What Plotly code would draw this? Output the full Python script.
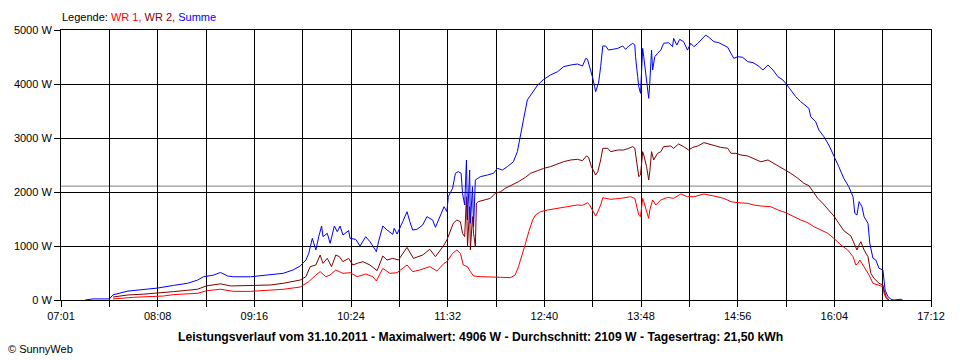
import plotly.graph_objects as go
import numpy as np

# ---------------- data ----------------
x_labels = ["07:01", "08:08", "09:16", "10:24", "11:32", "12:40", "13:48", "14:56", "16:04", "17:12"]
y_ticks = [0, 1000, 2000, 3000, 4000, 5000]
avg_power = 2109

summe_time = [
    "07:18", "07:23:30", "07:35", "07:37:30", "07:48", "07:59", "08:08:30", "08:20", "08:30", "08:37",
    "08:41", "08:48", "08:53", "08:58", "09:02", "09:14", "09:28", "09:37", "09:44", "09:49",
    "09:53", "09:55", "09:57:30", "10:00", "10:02", "10:04", "10:05", "10:08", "10:10", "10:13",
    "10:15", "10:17", "10:19", "10:23", "10:24", "10:28", "10:31", "10:35", "10:38", "10:42:30",
    "10:44", "10:47", "10:50", "10:54", "10:55", "10:57", "11:01", "11:04", "11:06", "11:08",
    "11:11", "11:15", "11:18", "11:22", "11:24", "11:27:30", "11:30", "11:32", "11:33", "11:36",
    "11:38", "11:40", "11:42", "11:43", "11:44:30", "11:45:45", "11:46:30", "11:48", "11:48:30", "11:50",
    "11:50:45", "11:52", "11:53:30", "11:55:30", "12:00:30", "12:04:45", "12:07:30", "12:11", "12:14:30", "12:18:45",
    "12:21:30", "12:23:45", "12:25:45", "12:28:30", "12:32:15", "12:35:45", "12:40", "12:44:45", "12:49:45", "12:54",
    "12:59", "13:03:45", "13:07:15", "13:09:30", "13:10:45", "13:12:15", "13:14:30", "13:15:45", "13:16:30", "13:18",
    "13:18:30", "13:20", "13:21:30", "13:23:30", "13:25:30", "13:28:30", "13:32", "13:35:30", "13:37:30", "13:39:45",
    "13:42:30", "13:44", "13:44:30", "13:46", "13:46:45", "13:48", "13:49:30", "13:50:15", "13:51:30", "13:53",
    "13:53:45", "13:54:30", "13:55:45", "13:56:30", "13:58", "14:00", "14:02:15", "14:04:15", "14:07:45", "14:10:30",
    "14:11:15", "14:13:30", "14:15:30", "14:18:15", "14:21", "14:23:15", "14:25:30", "14:28:15", "14:31:45", "14:33:45",
    "14:36", "14:39:30", "14:43", "14:46:30", "14:49:15", "14:51:30", "14:53:30", "14:56:15", "14:59:45", "15:03:15",
    "15:07", "15:10:30", "15:14", "15:17:30", "15:21", "15:24:30", "15:28", "15:30", "15:33:30", "15:37",
    "15:40:30", "15:44", "15:46:15", "15:47:30", "15:51", "15:53:15", "15:56:45", "16:00:15", "16:03:45", "16:07:15",
    "16:10:45", "16:14:15", "16:17:15", "16:18:30", "16:20", "16:21:30", "16:23:30", "16:25", "16:27:45", "16:29",
    "16:31:15", "16:33:15", "16:35:30", "16:38:15", "16:39", "16:39:45", "16:41:45", "16:44", "16:46", "16:50",
    "16:51", "16:52",
]
summe_w = [
    0, 20, 20, 95, 165, 198, 220, 270, 310, 370,
    430, 460, 510, 445, 430, 430, 463, 494, 556, 630,
    740, 864, 1142, 926, 1173, 1370, 1173, 1235, 1050, 1370,
    1265, 1370, 1204, 1284, 1142, 1123, 1000, 1173, 1080, 895,
    1080, 1370, 1296, 1216, 1327, 1222, 1450, 1635, 1450, 1296,
    1309, 1389, 1543, 1481, 1346, 1560, 1728, 1636, 1913, 2068,
    2346, 2377, 2346, 1975, 1759, 2593, 1481, 2407, 1420, 2099,
    1358, 2222, 2253, 2284, 2315, 2346, 2438, 2407, 2469, 2562,
    2747, 3025, 3333, 3704, 3858, 3981, 4086, 4167, 4228, 4321,
    4352, 4370, 4333, 4475, 4457, 4321, 4105, 3950, 3858, 3981,
    4012, 4321, 4704, 4704, 4630, 4642, 4660, 4704, 4642, 4704,
    4753, 4722, 4506, 4136, 3950, 3827, 4660, 4506, 4259, 3981,
    3735, 4012, 4630, 4259, 4506, 4568, 4630, 4753, 4765, 4691,
    4846, 4722, 4827, 4784, 4630, 4753, 4691, 4753, 4846, 4906,
    4865, 4784, 4765, 4722, 4679, 4568, 4475, 4506, 4494, 4414,
    4395, 4340, 4259, 4352, 4259, 4136, 4074, 4012, 3889, 3765,
    3673, 3593, 3549, 3395, 3302, 3148, 3025, 2870, 2685, 2469,
    2253, 2099, 1913, 1605, 1574, 1821, 1728, 1543, 1420, 1050,
    772, 741, 586, 556, 370, 185, 62, 12, 0, 15,
    15, 0,
]

wr2_time = [
    "07:37:30", "07:48", "07:59", "08:08:30", "08:20", "08:30", "08:37", "08:43", "08:48", "08:53",
    "09:00", "09:14", "09:28", "09:37", "09:49", "09:53", "09:56", "10:00", "10:03", "10:05",
    "10:08", "10:11", "10:14", "10:16:30", "10:19", "10:23", "10:26", "10:29", "10:33", "10:38",
    "10:43", "10:47", "10:50", "10:54", "10:58", "11:04", "11:08:30", "11:15", "11:20", "11:24",
    "11:27:30", "11:30", "11:32", "11:34:30", "11:36:30", "11:39", "11:41:30", "11:43", "11:44:30", "11:45:45",
    "11:46:30", "11:48", "11:48:30", "11:50", "11:50:45", "11:52", "11:52:45", "11:54", "11:57:45", "12:02:30",
    "12:06", "12:09:45", "12:13", "12:18", "12:22:15", "12:27:15", "12:30:45", "12:35:45", "12:40", "12:44:45",
    "12:49:45", "12:54", "12:59", "13:03:45", "13:07:15", "13:10", "13:11:30", "13:13:30", "13:16:30", "13:18",
    "13:20", "13:21:30", "13:25", "13:27", "13:32", "13:36", "13:39:45", "13:42:30", "13:44", "13:45:15",
    "13:46:45", "13:48", "13:49:30", "13:50:15", "13:52:15", "13:53:45", "13:54:30", "13:55:45", "13:57:15", "14:00",
    "14:02:15", "14:04:15", "14:09:15", "14:11:15", "14:14:45", "14:18:15", "14:21:45", "14:24:45", "14:28:15", "14:32:30",
    "14:36", "14:39:30", "14:44:15", "14:49:15", "14:51:30", "14:55", "14:58:30", "15:03:15", "15:07:30", "15:12:30",
    "15:17:30", "15:21:30", "15:26:30", "15:30", "15:33:30", "15:38:30", "15:42:45", "15:46:15", "15:49", "15:52:30",
    "15:56", "16:00:15", "16:03:45", "16:07:15", "16:10:45", "16:15:45", "16:18", "16:20", "16:21:30", "16:22:45",
    "16:25", "16:27:45", "16:29:45", "16:32", "16:35:30", "16:38:15", "16:39", "16:40:30", "16:42:30",
]
wr2_w = [
    55, 93, 108, 135, 155, 180, 200, 260, 280, 300,
    260, 265, 278, 309, 370, 432, 617, 648, 833, 679,
    771, 617, 833, 802, 710, 771, 648, 679, 710, 648,
    543, 815, 740, 771, 740, 975, 771, 833, 938, 802,
    926, 1019, 1111, 1265, 1420, 1481, 1450, 1235, 1173, 1913,
    987, 1728, 926, 1543, 1235, 987, 1790, 1821, 1852, 1882,
    1975, 2006, 2068, 2130, 2191, 2272, 2346, 2395, 2438, 2469,
    2519, 2562, 2593, 2605, 2580, 2667, 2642, 2469, 2315, 2377,
    2593, 2809, 2809, 2747, 2778, 2778, 2809, 2840, 2809, 2593,
    2284, 2315, 2747, 2685, 2469, 2222, 2377, 2747, 2593, 2716,
    2747, 2840, 2852, 2809, 2889, 2840, 2778, 2827, 2852, 2914,
    2889, 2852, 2827, 2809, 2716, 2716, 2685, 2667, 2623, 2560,
    2593, 2531, 2469, 2407, 2346, 2253, 2160, 2117, 2006, 1882,
    1790, 1667, 1556, 1420, 1284, 1185, 1050, 926, 1019, 1080,
    926, 802, 494, 401, 309, 278, 185, 62, 0,
]

wr1_time = [
    "07:37:30", "07:52", "08:13", "08:20", "08:37", "08:43", "08:53", "09:02", "09:14", "09:37",
    "09:49", "09:55", "10:00", "10:03", "10:07", "10:10", "10:14", "10:19", "10:24", "10:29",
    "10:35", "10:40", "10:42:30", "10:47", "10:52", "10:57", "11:04", "11:08", "11:13", "11:20",
    "11:25", "11:30", "11:32", "11:36", "11:39", "11:41:30", "11:43:30", "11:46:30", "11:48:30", "11:50:45",
    "11:55:30", "12:02:30", "12:09:45", "12:16:45", "12:20", "12:22:15", "12:25", "12:27:15", "12:29:30", "12:32:15",
    "12:34:15", "12:37:45", "12:42:45", "12:49:45", "12:56:45", "13:03:45", "13:07:15", "13:10:45", "13:12:15", "13:14:30",
    "13:16:30", "13:18", "13:20", "13:21:30", "13:27", "13:34", "13:41", "13:44", "13:45:15", "13:46:45",
    "13:48", "13:49:30", "13:50:15", "13:52:15", "13:53:45", "13:54:30", "13:56:30", "13:58:45", "14:02:15", "14:07",
    "14:11:15", "14:16:15", "14:21", "14:25:30", "14:32:30", "14:39:30", "14:46:30", "14:51:30", "14:56:15", "15:03:15",
    "15:07:30", "15:12:30", "15:19:30", "15:24:30", "15:30", "15:35:45", "15:40:30", "15:45:30", "15:49:45", "15:54:45",
    "15:59:30", "16:03:45", "16:08:45", "16:13:30", "16:17:15", "16:19:15", "16:20:45", "16:22", "16:25", "16:28:30",
    "16:31:15", "16:34:45", "16:38:15", "16:39", "16:40:30", "16:41:45",
]
wr1_w = [
    20, 50, 74, 100, 124, 170, 200, 160, 160, 198,
    240, 339, 463, 525, 432, 463, 556, 494, 506, 432,
    481, 432, 352, 586, 494, 506, 648, 525, 556, 617,
    537, 679, 710, 864, 926, 864, 648, 617, 525, 444,
    432, 432, 420, 414, 463, 617, 833, 1050, 1265, 1481,
    1574, 1636, 1667, 1697, 1741, 1759, 1753, 1802, 1759, 1636,
    1556, 1636, 1759, 1895, 1864, 1882, 1913, 1882, 1728, 1574,
    1543, 1882, 1821, 1667, 1512, 1667, 1852, 1759, 1852, 1901,
    1882, 1963, 1913, 1913, 1963, 1926, 1882, 1821, 1802, 1790,
    1759, 1740, 1728, 1667, 1617, 1543, 1481, 1432, 1358, 1296,
    1235, 1142, 1019, 926, 802, 648, 679, 741, 617, 463,
    309, 278, 247, 124, 31, 0,
]


def to_min(s):
    p = [int(v) for v in s.split(":")]
    while len(p) < 3:
        p.append(0)
    return p[0] * 60 + p[1] + p[2] / 60.0


FONT = "Arial, 'Liberation Sans', sans-serif"

fig = go.Figure()
fig.add_trace(go.Scatter(x=[to_min(t) for t in wr1_time], y=wr1_w, mode="lines",
                         line=dict(color="#FF0000", width=1), name="WR 1"))
fig.add_trace(go.Scatter(x=[to_min(t) for t in wr2_time], y=wr2_w, mode="lines",
                         line=dict(color="#800000", width=1), name="WR 2"))
fig.add_trace(go.Scatter(x=[to_min(t) for t in summe_time], y=summe_w, mode="lines",
                         line=dict(color="#0000FF", width=1), name="Summe"))

t0, t1 = to_min(x_labels[0]), to_min(x_labels[-1])
major = list(np.linspace(t0, t1, len(x_labels)))
minor = [(a + b) / 2 for a, b in zip(major[:-1], major[1:])]

fig.add_shape(type="line", xref="paper", x0=0, x1=1, yref="y", y0=avg_power, y1=avg_power,
              line=dict(color="#808080", width=1), layer="below")

fig.update_layout(
    width=960, height=360,
    margin=dict(l=61, r=29, t=30, b=60, pad=0),
    paper_bgcolor="white", plot_bgcolor="white",
    showlegend=False,
    font=dict(family=FONT, size=11, color="black"),
    xaxis=dict(range=[t0, t1], tickmode="array", tickvals=major, ticktext=x_labels,
               showgrid=True, gridcolor="black", gridwidth=1, zeroline=False,
               ticks="outside", ticklen=6, tickcolor="black", tickwidth=1,
               showline=True, linecolor="black", linewidth=1, mirror=True,
               tickfont=dict(family=FONT, size=11, color="black"),
               minor=dict(tickmode="array", tickvals=minor, showgrid=True, gridcolor="black",
                          gridwidth=1, ticks="outside", ticklen=6, tickcolor="black", tickwidth=1)),
    yaxis=dict(range=[0, 5000], tickmode="array", tickvals=y_ticks,
               ticktext=[f"{v} W" for v in y_ticks],
               showgrid=True, gridcolor="black", gridwidth=1, zeroline=False,
               ticks="outside", ticklen=6, tickcolor="black", tickwidth=1,
               showline=True, linecolor="black", linewidth=1, mirror=True,
               tickfont=dict(family=FONT, size=11, color="black")),
)

fig.add_annotation(
    xref="paper", yref="paper", x=(60 - 61) / 870, y=(300 - 17) / 270,
    xanchor="left", yanchor="middle", showarrow=False,
    text=("Legende: <span style='color:#FF0000'>WR 1, </span>"
          "<span style='color:#800000'>WR 2, </span>"
          "<span style='color:#0000FF'>Summe</span>"),
    font=dict(family=FONT, size=11, color="black"),
)
fig.add_annotation(
    xref="paper", yref="paper", x=(480 - 61) / 870, y=(300 - 337) / 270,
    xanchor="center", yanchor="middle", showarrow=False,
    text="<b>Leistungsverlauf vom 31.10.2011 - Maximalwert: 4906 W - Durchschnitt: 2109 W - Tagesertrag: 21,50 kWh</b>",
    font=dict(family=FONT, size=12.2, color="black"),
)
fig.add_annotation(
    xref="paper", yref="paper", x=(6 - 61) / 870, y=(300 - 349) / 270,
    xanchor="left", yanchor="middle", showarrow=False,
    text="© SunnyWeb",
    font=dict(family=FONT, size=11, color="black"),
)

fig.write_html("out.html", config={"displayModeBar": False},
               post_script="document.body.style.margin='0';document.body.style.padding='0';")
